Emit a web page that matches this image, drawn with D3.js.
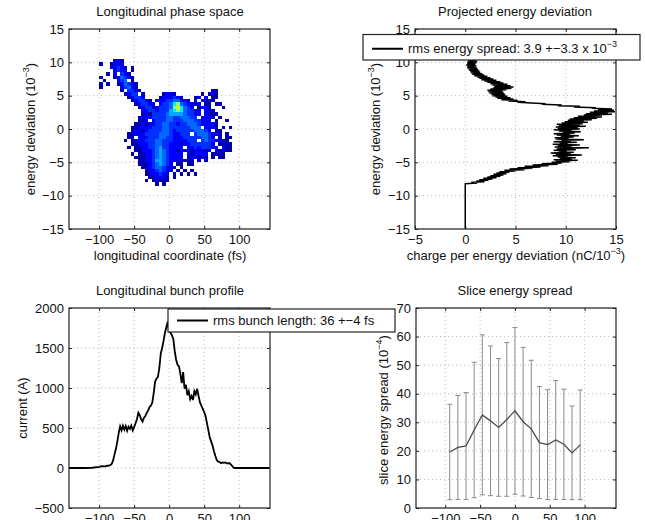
<!DOCTYPE html>
<html>
<head>
<meta charset="utf-8">
<script src="https://cdn.jsdelivr.net/npm/d3@7"></script>
<style>
body { margin: 0; background: #fff; }
svg { font-family: "Liberation Sans", Arial, Helvetica, sans-serif; }
</style>
</head>
<body>
<div id="fig"></div>
<script>
var width = 645
var height = 520

// ticks
var timeTicks = [-100, -50, 0, 50, 100]
var energyTicks = [-15, -10, -5, 0, 5, 10, 15]
var chargeTicks = [-5, 0, 5, 10, 15]
var currentTicks = [-500, 0, 500, 1000, 1500, 2000]
var spreadTicks = [0, 10, 20, 30, 40, 50, 60, 70]

// phase space histogram: bin centres (fs, 1e-3) and count level per row
// each row lists [first column, levels...], everything else is empty
var phaseTimeBins = [-97.5, -92.5, -87.5, -82.5, -77.5, -72.5, -67.5, -62.5, -57.5, -52.5,
    -47.5, -42.5, -37.5, -32.5, -27.5, -22.5, -17.5, -12.5, -7.5, -2.5,
    2.5, 7.5, 12.5, 17.5, 22.5, 27.5, 32.5, 37.5, 42.5, 47.5,
    52.5, 57.5, 62.5, 67.5, 72.5, 77.5, 82.5, 87.5, 92.5]
var phaseEnergyBins = [10.75, 10.25, 9.75, 9.25, 8.75, 8.25, 7.75, 7.25, 6.75, 6.25,
    5.75, 5.25, 4.75, 4.25, 3.75, 3.25, 2.75, 2.25, 1.75, 1.25,
    0.75, 0.25, -0.25, -0.75, -1.25, -1.75, -2.25, -2.75, -3.25, -3.75,
    -4.25, -4.75, -5.25, -5.75, -6.25, -6.75, -7.25, -7.75, -8.25, -8.75]
var phaseRows = [
    [],
    [[4, "121"]],
    [[0, "1"], [3, "1222"]],
    [[3, "12321"], [9, "1"]],
    [[4, "2322"], [9, "1"]],
    [[2, "1"], [4, "20321"]],
    [[0, "1"], [4, "124321"]],
    [[1, "1"], [5, "23401"]],
    [[0, "1"], [2, "1"], [5, "124321"]],
    [[0, "1"], [6, "23421"]],
    [[6, "103321"], [32, "11"]],
    [[7, "123301"], [18, "1221"], [29, "10121"]],
    [[8, "12332"], [17, "1222321"], [27, "1202011"]],
    [[9, "123321"], [16, "1223344221"], [27, "202121"]],
    [[10, "1233220233467432212011"], [33, "11"]],
    [[11, "123312333478643201221"], [35, "1"]],
    [[12, "223323335676433220221"]],
    [[12, "1213333455554332202111"]],
    [[11, "1222333344334443302221"], [34, "1"]],
    [[11, "11202333443334443322201"], [36, "1"]],
    [[10, "112122334433233444322221"]],
    [[9, "1122223334433333344402221"], [35, "101"]],
    [[9, "12212333344323333344432011"]],
    [[8, "112223333444322333034443221"], [36, "1"]],
    [[8, "110222333443322233333443201011"]],
    [[7, "101222333443332222333034332211"]],
    [[9, "11222334433222122333333201111"]],
    [[8, "101122334533222202232333220211"]],
    [[10, "1122234543221222122212021211"]],
    [[9, "101122345432222021222201111"]],
    [[10, "11122345432222012212101011"]],
    [[11, "11223554322212110101"]],
    [[11, "1112345432011011"]],
    [[12, "112344322101"]],
    [[13, "12234322010101"]],
    [[13, "112232201010101"]],
    [[14, "11222101"]],
    [[13, "1011111"]],
    [[16, "101"]],
    []
]
var phaseColors = ["#ffffff", "#0000b0", "#0000ff", "#0030ff", "#0068ff", "#00a8ff", "#10e8f0", "#80ff80", "#d8ff28"]

// projected energy deviation (energy in 1e-3, charge in nC/1e-3)
var projEnergy = [-15, -8.2,
    -8.1, -8.0, -7.9, -7.8, -7.7, -7.6, -7.5, -7.4, -7.3, -7.2,
    -7.1, -7.0, -6.9, -6.8, -6.7, -6.6, -6.5, -6.4, -6.3, -6.2,
    -6.1, -6.0, -5.9, -5.8, -5.7, -5.6, -5.5, -5.4, -5.3, -5.2,
    -5.1, -5.0, -4.9, -4.8, -4.7, -4.6, -4.5, -4.4, -4.3, -4.2,
    -4.1, -4.0, -3.9, -3.8, -3.7, -3.6, -3.5, -3.4, -3.3, -3.2,
    -3.1, -3.0, -2.9, -2.8, -2.7, -2.6, -2.5, -2.4, -2.3, -2.2,
    -2.1, -2.0, -1.9, -1.8, -1.7, -1.6, -1.5, -1.4, -1.3, -1.2,
    -1.1, -1.0, -0.9, -0.8, -0.7, -0.6, -0.5, -0.4, -0.3, -0.2,
    -0.1, 0.0, 0.1, 0.2, 0.3, 0.4, 0.5, 0.6, 0.7, 0.8,
    0.9, 1.0, 1.1, 1.2, 1.3, 1.4, 1.5, 1.6, 1.7, 1.8,
    1.9, 2.0, 2.1, 2.2, 2.3, 2.4, 2.5, 2.6, 2.7, 2.8,
    2.9, 3.0, 3.1, 3.2, 3.3, 3.4, 3.5, 3.6, 3.7, 3.8,
    3.9, 4.0, 4.1, 4.2, 4.3, 4.4, 4.5, 4.6, 4.7, 4.8,
    4.9, 5.0, 5.1, 5.2, 5.3, 5.4, 5.5, 5.6, 5.7, 5.8,
    5.9, 6.0, 6.1, 6.2, 6.3, 6.4, 6.5, 6.6, 6.7, 6.8,
    6.9, 7.0, 7.1, 7.2, 7.3, 7.4, 7.5, 7.6, 7.7, 7.8,
    7.9, 8.0, 8.1, 8.2, 8.3, 8.4, 8.5, 8.6, 8.7, 8.8,
    8.9, 9.0, 9.1, 9.2, 9.3, 9.4, 9.5, 9.6, 9.7, 9.8,
    9.9, 10.0, 10.1, 10.2, 10.3, 10.4, 10.5, 10.6, 10.7, 10.8,
    10.9, 11.0, 11.1, 11.2, 11.3, 11.4, 11.5, 11.6, 11.7, 11.8]
var projCharge = [0, 0,
    1.2, 0.6, 1.9, 1.1, 2.3, 1.4, 2.7, 1.8, 3.1, 2.2,
    3.5, 2.5, 3.8, 2.8, 4.1, 3.1, 4.4, 3.4, 5.0, 3.9,
    5.9, 4.4, 6.7, 5.2, 7.5, 5.9, 8.3, 6.7, 9.2, 7.6,
    9.6, 8.6, 10.4, 9.0, 11.2, 8.8, 10.6, 9.4, 11.0, 9.2,
    10.2, 8.7, 11.6, 9.0, 10.5, 8.5, 10.8, 9.3, 10.1, 8.8,
    11.0, 9.1, 10.3, 12.3, 8.9, 10.6, 9.2, 11.4, 8.7, 10.2,
    9.4, 11.1, 8.8, 10.5, 9.6, 11.8, 9.0, 10.3, 8.9, 10.8,
    9.5, 11.3, 9.1, 10.4, 8.8, 10.9, 9.7, 11.5, 9.3, 10.6,
    8.8, 11.4, 9.2, 11.2, 9.0, 12.0, 9.3, 11.4, 9.1, 11.7,
    9.6, 12.2, 9.9, 11.8, 10.2, 12.6, 10.4, 13.1, 10.8, 13.6,
    11.2, 13.6, 11.8, 14.6, 12.0, 14.2, 12.4, 14.9, 12.8, 14.8,
    13.2, 14.6, 12.6, 13.0, 10.8, 11.4, 9.2, 9.6, 7.6, 8.0,
    6.6, 5.2, 6.0, 4.3, 5.2, 3.6, 4.8, 3.2, 4.5, 3.0,
    4.2, 2.7, 4.0, 2.6, 3.9, 2.4, 3.8, 2.3, 3.7, 2.2,
    4.1, 2.5, 4.6, 2.8, 4.8, 2.9, 4.5, 2.7, 4.2, 2.5,
    3.8, 2.2, 3.5, 1.9, 3.1, 1.6, 2.8, 1.4, 2.5, 1.2,
    2.2, 0.9, 1.9, 0.7, 1.7, 0.6, 1.5, 0.5, 1.4, 0.4,
    1.3, 0.3, 1.2, 0.2, 1.1, 0.2, 1.1, 0.1, 1.0, 0.2,
    1.1, 0.2, 1.2, 0.3, 1.1, 0.3, 1.3, 0.3, 1.2, 0.4,
    1.4, 0.4, 1.5, 0.5, 1.5, 0.6, 1.4, 0.5, 1.5, 0.6]

// longitudinal bunch profile (fs, A)
var bunchTime = [-143, -120, -110, -100, -96, -92, -88,
    -86, -84, -82, -80, -78, -76, -74, -72, -70, -68, -66, -64, -62, -60,
    -58, -56, -54, -52, -50, -48, -46, -44, -42, -40, -38, -36, -34, -32,
    -30, -28, -26, -24, -22, -20, -18, -16, -14, -12, -10, -8, -6, -4, -2,
    0, 2, 4, 6, 8, 10, 12, 14, 16, 18, 20, 22, 24, 26, 28, 30,
    32, 34, 36, 38, 40, 42, 44, 46, 48, 50, 52, 54, 56, 58, 60, 62,
    64, 66, 68, 70, 72, 74, 76, 78, 80, 82, 84, 86, 88, 90, 92, 94, 96, 143]
var bunchCurrent = [0, 0, 3, 15, 22, 20, 28,
    30, 38, 50, 95, 170, 240, 330, 440, 520, 470, 530, 480, 525, 465,
    515, 490, 530, 470, 510, 560, 610, 690, 660, 610, 580, 630, 650, 690,
    720, 760, 780, 820, 940, 1080, 1120, 1140, 1250, 1430, 1500, 1590, 1690, 1760, 1830,
    1710, 1690, 1660, 1610, 1460, 1350, 1290, 1270, 1180, 1060, 1200, 990, 1040, 910, 960, 860,
    900, 850, 960, 920, 990, 900, 820, 780, 740, 700, 650, 560, 470, 380, 330, 280,
    210, 150, 100, 80, 75, 60, 70, 65, 70, 60, 55, 62, 45, 25, 5, 0, 0, 0]

// slice energy spread (fs, 1e-4)
var sliceTime = [-93.6, -81.9, -70.2, -58.5, -46.8, -35.1, -23.4, -11.7, 0,
    11.7, 23.4, 35.1, 46.8, 58.5, 70.2, 81.9, 93.6]
var sliceMean = [19.6, 21.2, 21.7, 27.3, 32.6, 30.5, 28.2, 31.0, 34.0,
    30.2, 27.7, 22.9, 22.2, 23.8, 22.3, 19.3, 22.1]
var sliceErr = [16.7, 18.2, 18.7, 23.7, 28.0, 26.2, 24.1, 26.9, 29.2,
    26.0, 24.0, 19.6, 19.2, 20.8, 19.3, 16.4, 19.2]

var svg = d3.select("#fig").append("svg").attr("width", width).attr("height", height)

var fontSize = 13
var tickFmt = function(d){ return d < 0 ? "\u2212" + Math.abs(d) : "" + d }

// draws grid, ticks and tick labels of one axes, returns the scales
var makePanel = function(box, xDomain, yDomain, xTicks, yTicks, id){
    var x = d3.scaleLinear().domain(xDomain).range([box.left, box.right])
    var y = d3.scaleLinear().domain(yDomain).range([box.bottom, box.top])

    svg.append("clipPath").attr("id", id)
        .append("rect")
        .attr("x", box.left).attr("y", box.top)
        .attr("width", box.right - box.left).attr("height", box.bottom - box.top)

    var g = svg.append("g")
    g.selectAll(".gx").data(xTicks).enter().append("line")
        .attr("x1", d => x(d)).attr("x2", d => x(d))
        .attr("y1", box.top).attr("y2", box.bottom)
        .attr("stroke", "#bdbdbd").attr("stroke-dasharray", "1,3")
    g.selectAll(".gy").data(yTicks).enter().append("line")
        .attr("x1", box.left).attr("x2", box.right)
        .attr("y1", d => y(d)).attr("y2", d => y(d))
        .attr("stroke", "#bdbdbd").attr("stroke-dasharray", "1,3")

    var axes = svg.append("g")
    axes.append("g").attr("transform", "translate(0," + box.bottom + ")")
        .call(d3.axisBottom(x).tickValues(xTicks).tickFormat(tickFmt).tickSizeInner(-3).tickSizeOuter(0).tickPadding(6))
    axes.append("g").attr("transform", "translate(" + box.left + ",0)")
        .call(d3.axisLeft(y).tickValues(yTicks).tickFormat(tickFmt).tickSizeInner(-3).tickSizeOuter(0).tickPadding(5))
    axes.append("g").attr("transform", "translate(0," + box.top + ")")
        .call(d3.axisTop(x).tickValues(xTicks).tickSizeInner(-3).tickSizeOuter(0).tickFormat(""))
    axes.append("g").attr("transform", "translate(" + box.right + ",0)")
        .call(d3.axisRight(y).tickValues(yTicks).tickSizeInner(-3).tickSizeOuter(0).tickFormat(""))
    axes.selectAll("g").attr("font-size", fontSize).attr("font-family", null)
    axes.selectAll(".domain").remove()
    axes.selectAll("text").attr("fill", "#111")
    axes.selectAll("line").attr("stroke", "#222")

    return {x: x, y: y, box: box, clip: "url(#" + id + ")"}
}

var drawBox = function(p){
    svg.append("rect")
        .attr("x", p.box.left).attr("y", p.box.top)
        .attr("width", p.box.right - p.box.left).attr("height", p.box.bottom - p.box.top)
        .attr("fill", "none").attr("stroke", "#222").attr("stroke-width", 1.2)
}

var title = function(text, cx, y){
    svg.append("text").attr("x", cx).attr("y", y)
        .attr("text-anchor", "middle").attr("font-size", fontSize).attr("fill", "#111")
        .text(text)
}

// text with one superscript part, optionally rotated
var labelSup = function(before, sup, after, x, y, rotate){
    var t = svg.append("text")
        .attr("text-anchor", "middle").attr("font-size", fontSize).attr("fill", "#111")
        .attr("transform", "translate(" + x + "," + y + ")" + (rotate ? " rotate(-90)" : ""))
    t.append("tspan").text(before)
    if (sup) {
        t.append("tspan").attr("dy", -6).attr("font-size", 9).text(sup)
        t.append("tspan").attr("dy", 6).text(after)
    }
    return t
}

var legend = function(lx, ly, w, h, before, sup){
    var g = svg.append("g")
    g.append("rect").attr("x", lx).attr("y", ly).attr("width", w).attr("height", h)
        .attr("fill", "#fff").attr("stroke", "#222").attr("stroke-width", 1.2)
    var mid = ly + h / 2 + (sup ? 1.5 : 0)
    g.append("line").attr("x1", lx + 9).attr("x2", lx + 40)
        .attr("y1", mid).attr("y2", mid).attr("stroke", "#000").attr("stroke-width", 2)
    var t = g.append("text").attr("x", lx + 45).attr("y", mid + 4.5)
        .attr("font-size", fontSize).attr("fill", "#111")
    t.append("tspan").text(before)
    if (sup) t.append("tspan").attr("dy", -6).attr("font-size", 9).text(sup)
}

// ---- 1: longitudinal phase space
var p1 = makePanel({left: 69, right: 270, top: 29, bottom: 229}, [-143, 144], [-15, 15], timeTicks, energyTicks, "c1")
var cells = []
phaseRows.forEach(function(row, j){
    row.forEach(function(seg){
        for (var k = 0; k < seg[1].length; k++) {
            var level = +seg[1][k]
            if (level > 0) cells.push({t: phaseTimeBins[seg[0] + k], e: phaseEnergyBins[j], level: level})
        }
    })
})
svg.append("g").attr("clip-path", p1.clip)
    .selectAll("rect").data(cells).enter().append("rect")
    .attr("x", d => p1.x(d.t - 2.5))
    .attr("y", d => p1.y(d.e + 0.25))
    .attr("width", d => p1.x(d.t + 2.5) - p1.x(d.t - 2.5))
    .attr("height", d => p1.y(d.e - 0.25) - p1.y(d.e + 0.25))
    .attr("fill", d => phaseColors[d.level])
    .attr("shape-rendering", "crispEdges")
drawBox(p1)
title("Longitudinal phase space", 170, 16)
labelSup("longitudinal coordinate (fs)", null, null, 170, 260, false)
labelSup("energy deviation (10", "\u22123", ")", 35, 129, true)

// ---- 2: projected energy deviation
var p2 = makePanel({left: 415, right: 616, top: 29, bottom: 229}, [-5, 15], [-15, 15], chargeTicks, energyTicks, "c2")
var projLine = d3.line().x((d, i) => p2.x(projCharge[i])).y(d => p2.y(d))
svg.append("path").datum(projEnergy)
    .attr("d", projLine).attr("clip-path", p2.clip)
    .attr("fill", "none").attr("stroke", "#000").attr("stroke-width", 1.5)
drawBox(p2)
title("Projected energy deviation", 515, 16)
labelSup("charge per energy deviation (nC/10", "\u22123", ")", 516, 260, false)
labelSup("energy deviation (10", "\u22123", ")", 380, 129, true)
legend(363, 34.5, 277, 25.5, "rms energy spread: 3.9 +\u22123.3 x 10", "\u22123")

// ---- 3: longitudinal bunch profile
var p3 = makePanel({left: 69, right: 270, top: 308, bottom: 508}, [-143, 144], [-500, 2000], timeTicks, currentTicks, "c3")
var bunchLine = d3.line().x((d, i) => p3.x(d)).y((d, i) => p3.y(bunchCurrent[i]))
svg.append("path").datum(bunchTime)
    .attr("d", bunchLine).attr("clip-path", p3.clip)
    .attr("fill", "none").attr("stroke", "#000").attr("stroke-width", 1.8)
drawBox(p3)
title("Longitudinal bunch profile", 170, 295)
labelSup("current (A)", null, null, 27, 408, true)

// ---- 4: slice energy spread
var p4 = makePanel({left: 416, right: 616, top: 308, bottom: 508}, [-142, 145], [0, 70], timeTicks, spreadTicks, "c4")
var bars = svg.append("g").attr("clip-path", p4.clip)
sliceTime.forEach(function(t, i){
    var xx = p4.x(t)
    var lo = p4.y(sliceMean[i] - sliceErr[i])
    var hi = p4.y(sliceMean[i] + sliceErr[i])
    bars.append("line").attr("x1", xx).attr("x2", xx).attr("y1", lo).attr("y2", hi)
        .attr("stroke", "#8a8a8a").attr("stroke-width", 1)
    bars.append("line").attr("x1", xx - 2.5).attr("x2", xx + 2.5).attr("y1", lo).attr("y2", lo)
        .attr("stroke", "#8a8a8a")
    bars.append("line").attr("x1", xx - 2.5).attr("x2", xx + 2.5).attr("y1", hi).attr("y2", hi)
        .attr("stroke", "#8a8a8a")
})
var sliceLine = d3.line().x(d => p4.x(d)).y((d, i) => p4.y(sliceMean[i]))
bars.append("path").datum(sliceTime)
    .attr("d", sliceLine)
    .attr("fill", "none").attr("stroke", "#4a4a4a").attr("stroke-width", 1.3)
drawBox(p4)
title("Slice energy spread", 515, 295)
labelSup("slice energy spread (10", "\u22124", ")", 388, 410, true)

// legend of panel 3 sits on top of panel 4's label
legend(168, 309, 227, 23, "rms bunch length: 36 +\u22124 fs", null)
</script>
</body>
</html>
